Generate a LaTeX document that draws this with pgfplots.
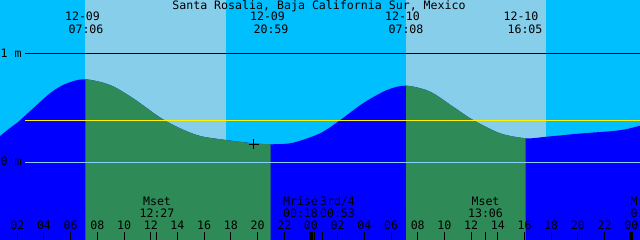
\documentclass[border=0pt]{standalone}
\usepackage{fontspec}
\setmainfont{DejaVu Sans Mono}
\usepackage{pgfplots}
\usepackage{pgfplotstable}
\pgfplotsset{compat=1.18}
\usepgfplotslibrary{fillbetween}
\definecolor{nightsky}{RGB}{0,191,255}
\definecolor{daysky}{RGB}{135,206,235}
\definecolor{nightwater}{RGB}{0,0,255}
\definecolor{daywater}{RGB}{46,139,87}
\definecolor{zeroline}{RGB}{135,206,250}

% tide height (m) vs hours since 12-09 00:00
\pgfplotstableread{
h m
0.704 0.244
1.453 0.318
2.202 0.389
4.450 0.638
5.724 0.730
7.072 0.767
8.945 0.714
10.668 0.592
12.691 0.415
14.189 0.315
15.688 0.244
17.636 0.207
19.658 0.177
21.082 0.168
22.655 0.182
24.678 0.269
26.176 0.389
27.899 0.546
29.697 0.668
31.120 0.708
32.919 0.653
34.642 0.514
36.140 0.392
38.163 0.269
40.111 0.223
41.684 0.238
44.156 0.267
46.628 0.290
47.680 0.309
48.651 0.339
}\tide

\begin{document}
\begin{tikzpicture}[font=\fontsize{11.6}{12}\selectfont]
\begin{axis}[
  scale only axis, width=640pt, height=240pt,
  xmin=0.704, xmax=48.651, ymin=-0.7143, ymax=1.4977,
  axis x line=bottom, axis y line=none,
  axis line style={draw=none},
  axis on top,
  xtick={2,4,...,48}, xticklabels={},
  extra x ticks={12.45,24.3,24.883,37.1},
  extra x tick labels={},
  tick align=inside, major tick length=8pt,
  every tick/.style={black, line width=1pt},
  clip=true,
]
\addplot[name path=top, draw=none] coordinates {(0.704,1.4977) (48.651,1.4977)};
\addplot[name path=bottom, draw=none] coordinates {(0.704,-0.7143) (48.651,-0.7143)};
\addplot[name path=tide, draw=none, smooth] table {\tide};
% sky: night, then day bands
\addplot[nightsky] fill between[of=top and bottom];
\addplot[daysky] fill between[of=top and bottom, soft clip={domain=7.1:17.64}];
\addplot[daysky] fill between[of=top and bottom, soft clip={domain=31.133:41.61}];
% water
\addplot[nightwater] fill between[of=tide and bottom];
\addplot[daywater] fill between[of=tide and bottom, soft clip={domain=7.1:20.983}];
\addplot[daywater] fill between[of=tide and bottom, soft clip={domain=31.133:40.083}];
% reference lines
\addplot[black, line width=1pt] coordinates {(2.577,1) (48.651,1)};
\addplot[yellow, line width=1pt] coordinates {(2.577,0.389) (48.651,0.389)};
\addplot[zeroline, line width=1pt] coordinates {(2.577,0) (48.651,0)};
% current time mark
\addplot[black, only marks, mark=+, mark size=5pt, mark options={line width=1pt}] coordinates {(19.73,0.170)};
% midnight ticks
\addplot[black, line width=4pt] coordinates {(24,-0.7143) (24,-0.6406)};
\addplot[black, line width=4pt] coordinates {(48,-0.7143) (48,-0.6406)};
\end{axis}
\begin{scope}[shift={(current axis.north west)}, x=1pt, y=-1pt]
\node[anchor=base, inner sep=0] at (319,9.3) {Santa Rosalia, Baja California Sur, Mexico};
\node[anchor=base, inner sep=0] at (82.5,21) {12-09};
\node[anchor=base, inner sep=0] at (86,33.7) {07:06};
\node[anchor=base, inner sep=0] at (267.5,21) {12-09};
\node[anchor=base, inner sep=0] at (271,33.7) {20:59};
\node[anchor=base, inner sep=0] at (402.5,21) {12-10};
\node[anchor=base, inner sep=0] at (406,33.7) {07:08};
\node[anchor=base, inner sep=0] at (521,21) {12-10};
\node[anchor=base, inner sep=0] at (525,33.7) {16:05};
\node[anchor=base west, inner sep=0] at (0.5,57.3) {1 m};
\node[anchor=base west, inner sep=0] at (0.5,166) {0 m};
\node[anchor=base, inner sep=0] at (157,206) {Mset};
\node[anchor=base, inner sep=0] at (157,217.7) {12:27};
\node[anchor=base, inner sep=0] at (300.5,206) {Mrise};
\node[anchor=base, inner sep=0] at (300.5,217.7) {00:18};
\node[anchor=base, inner sep=0] at (337.5,206) {3rd/4};
\node[anchor=base, inner sep=0] at (337.5,217.7) {00:53};
\node[anchor=base, inner sep=0] at (485.5,206) {Mset};
\node[anchor=base, inner sep=0] at (485.5,217.7) {13:06};
\node[anchor=base, inner sep=0] at (648,206) {Mrise};
\node[anchor=base, inner sep=0] at (648,217.7) {01:03};
\foreach \h/\l in {2/02,4/04,6/06,8/08,10/10,12/12,14/14,16/16,18/18,20/20,22/22,24/00,26/02,28/04,30/06,32/08,34/10,36/12,38/14,40/16,42/18,44/20,46/22,48/00}{
  \pgfmathsetmacro\xx{(\h-0.704)*13.348}
  \node[anchor=base, inner sep=0] at (\xx,230) {\l};
}
\end{scope}
\pgfresetboundingbox
\path (current axis.south west) rectangle (current axis.north east);
\end{tikzpicture}
\end{document}
